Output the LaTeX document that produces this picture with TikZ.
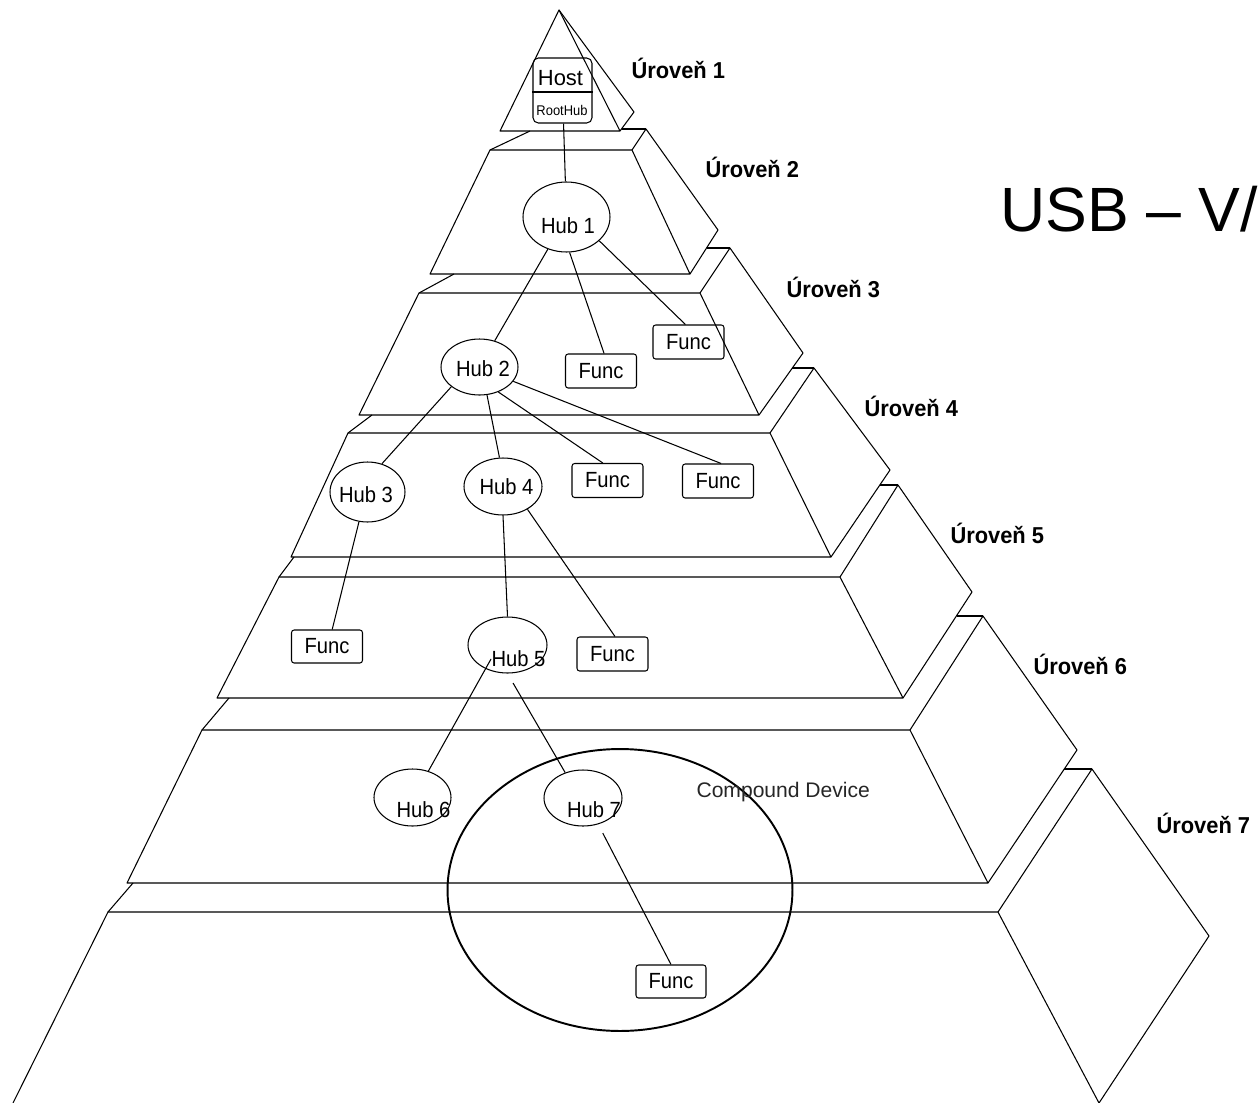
\documentclass[tikz,border=0pt]{standalone}
\usepackage{fontspec}
\setmainfont{Liberation Sans}
\newfontfamily\narrowfont[FakeStretch=0.92]{Liberation Sans}
\newfontfamily\levelfont[FakeStretch=0.95]{Liberation Sans}
\usetikzlibrary{shapes.geometric}
\tikzset{
  hub/.style={draw,ellipse,inner sep=0pt,minimum width=1.56cm,minimum height=1.14cm},
  func/.style={draw,rounded corners=1.5pt,inner sep=0pt,minimum width=1.42cm,minimum height=0.68cm,
    font=\narrowfont\fontsize{12.5}{14}\selectfont},
  hubtext/.style={inner sep=0pt,font=\narrowfont\fontsize{12.5}{14}\selectfont},
  level/.style={inner sep=0pt,anchor=base west,font=\levelfont\bfseries\fontsize{13.1}{15}\selectfont},
}
\begin{document}
\begin{tikzpicture}[x=0.02cm,y=-0.02cm,line width=0.6pt,line join=round]
\useasboundingbox (0,0) rectangle (1259,1103);
% tiers of the pyramid
\draw (559,10)--(500,131)--(620,131)--cycle;
\draw (559,10)--(634,112)--(620,131);
\draw (490,150)--(632,150)--(690,274)--(430,274)--cycle;
\draw (632,150)--(646,129)--(718,230)--(690,274);
\draw (622,129)--(646,129);
\draw (530,131)--(490,150);
\draw (419,293)--(700,293)--(759,415)--(359,415)--cycle;
\draw (700,293)--(730,248)--(803,353)--(759,415);
\draw (707,248)--(730,248);
\draw (454,274)--(419,293);
\draw (348,433)--(770,433)--(831,557)--(291,557)--cycle;
\draw (770,433)--(814,368)--(890,470)--(831,557);
\draw (792,368)--(814,368);
\draw (372,415)--(348,433);
\draw (279,577)--(840,577)--(903,698)--(217,698)--cycle;
\draw (840,577)--(898,485)--(972,592)--(903,698);
\draw (880,485)--(898,485);
\draw (294,557)--(279,577);
\draw (202,730)--(910,730)--(988,883)--(127,883)--cycle;
\draw (910,730)--(983,616)--(1077,750)--(988,883);
\draw (957,616)--(983,616);
\draw (229,698)--(202,730);
\draw (13,1103)--(108,912)--(998,912)--(1099,1103);
\draw (998,912)--(1092,769)--(1209,936)--(1099,1103);
\draw (1064,769)--(1092,769);
\draw (133,883)--(108,912);

    \node [level] (lvl1) at (631,78) {Úroveň 1};
    \node [level] (lvl2) at (705,177) {Úroveň 2};
    \node [level] (lvl3) at (786,297) {Úroveň 3};
    \node [level] (lvl4) at (864,416) {Úroveň 4};
    \node [level] (lvl5) at (950,543) {Úroveň 5};
    \node [level] (lvl6) at (1033,674) {Úroveň 6};
    \node [level] (lvl7) at (1156,833) {Úroveň 7};

    \node [anchor=base west,inner sep=0pt,font=\fontsize{35.6}{40}\selectfont] (title) at (1000,231) {USB – V/};

% host with root hub
    \node [draw,rounded corners=3pt,inner sep=0pt,minimum width=1.18cm,minimum height=1.3cm] (host) at (562.5,90.5) {};
    \coordinate (hostdiv) at (0,92);
    \draw (host.west |- hostdiv) -- (host.east |- hostdiv);
    \node [hubtext,font=\fontsize{12.5}{14}\selectfont] (hosttxt) at (560.5,78) {Host};
    \node [inner sep=0pt,font=\narrowfont\fontsize{8}{9}\selectfont] (roottxt) at (562,110) {RootHub};

% hubs
    \node [hub,minimum width=1.74cm,minimum height=1.4cm] (hub1) at (566.5,217) {};
    \node [hub,minimum width=1.54cm,minimum height=1.12cm] (hub2) at (479.5,367) {};
    \node [hub,minimum width=1.5cm,minimum height=1.2cm] (hub3) at (367.5,492) {};
    \node [hub] (hub4) at (503,486.5) {};
    \node [hub,minimum width=1.58cm,minimum height=1.12cm] (hub5) at (507.5,645) {};
    \node [hub,minimum width=1.54cm] (hub6) at (412.5,797.5) {};
    \node [hub,minimum height=1.12cm] (hub7) at (583,798) {};
    \node [hubtext] (hub1t) at (568,226) {Hub 1};
    \node [hubtext] (hub2t) at (483,369) {Hub 2};
    \node [hubtext] (hub3t) at (366,495) {Hub 3};
    \node [hubtext] (hub4t) at (506.5,487) {Hub 4};
    \node [hubtext] (hub5t) at (518.5,659) {Hub 5};
    \node [hubtext] (hub6t) at (423.5,809.5) {Hub 6};
    \node [hubtext] (hub7t) at (594,809.5) {Hub 7};

% functions
    \node [func] (func3a) at (601,371) {Func};
    \node [func] (func3b) at (688.5,342) {Func};
    \node [func] (func4a) at (607.5,480.5) {Func};
    \node [func] (func4b) at (718,481) {Func};
    \node [func,minimum height=0.66cm] (func5a) at (327,646.5) {Func};
    \node [func] (func5b) at (612.5,654) {Func};
    \node [func,minimum width=1.4cm,minimum height=0.66cm] (func7) at (671,981.5) {Func};

% compound device
    \node [draw,ellipse,line width=1.1pt,inner sep=0pt,minimum width=6.9cm,minimum height=5.64cm] (compound) at (620,890) {};
    \node [anchor=base west,inner sep=0pt,text=black!85,font=\fontsize{12}{14}\selectfont] (compoundtxt) at (696,797) {Compound Device};

\draw (host) -- (hub1);
\draw (hub1) -- (hub2);
\draw (hub1.-85) -- (func3a.80);
\draw (hub1.-36) -- (func3b.100);
\draw (hub2.-145) -- (hub3.63);
\draw (hub2.-75) -- (hub4.97);
\draw (hub2.-53) -- (func4a.105);
\draw (hub2.-23) -- (func4b.80);
\draw (hub3.-106) -- (func5a.73);
\draw (hub4.south) -- (hub5.north);
\draw (hub4.-43) -- (func5b.82);
\draw (hub5t.west) -- (hub6.59);
\draw[shorten <=0.22cm] (hub5.south) -- (hub7.125);
\draw[shorten <=0.2cm] (hub7.-60) -- (func7.north);
  \end{tikzpicture}
\end{document}
